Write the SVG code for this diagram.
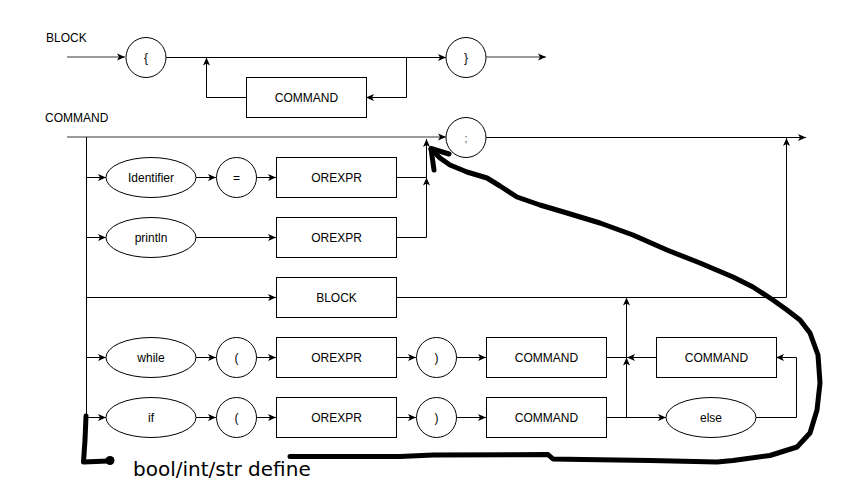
<svg xmlns="http://www.w3.org/2000/svg" width="842" height="480" viewBox="0 0 842 480">
  <style>
    .n { fill: #fff; stroke: #000; stroke-width: 1; }
    .t { font-family: "Liberation Sans", Arial, sans-serif; font-size: 12px; fill: #000; text-anchor: middle; dominant-baseline: central; }
    .lbl { font-family: "Liberation Sans", Arial, sans-serif; font-size: 12px; fill: #000; }
    .c { fill: none; stroke: #000; stroke-width: 1; }
    .g { fill: none; stroke: #7a7a7a; stroke-width: 1.6; }
    .ink { fill: none; stroke: #000; stroke-width: 5; stroke-linecap: round; stroke-linejoin: round; }
    .hand { font-family: "DejaVu Sans", sans-serif; font-size: 20px; fill: #000; }
  </style>
  <defs>
    <marker id="arr" markerUnits="userSpaceOnUse" markerWidth="10" markerHeight="10" viewBox="0 0 10 10" refX="8" refY="5" orient="auto">
      <path d="M0,1.5 L8,5 L0,8.5 L2,5 z" fill="#000"/>
    </marker>
  </defs>

  <rect width="842" height="480" fill="#fff"/>

  <!-- rule titles -->
  <text class="lbl" x="46" y="42">BLOCK</text>
  <text class="lbl" x="45" y="122">COMMAND</text>

  <!-- connectors -->
  <g id="connectors">
    <!-- BLOCK rule -->
    <path class="g" d="M67,57 H125" marker-end="url(#arr)"/>
    <path class="c" d="M166,57.5 H446" marker-end="url(#arr)"/>
    <path class="g" d="M486,57 H546" marker-end="url(#arr)"/>
    <path class="c" d="M406.5,57.5 V97.5 H366" marker-end="url(#arr)"/>
    <path class="c" d="M246,97.5 H206.5 V57.5" marker-end="url(#arr)"/>

    <!-- COMMAND rule: main line -->
    <path class="g" d="M67,137 H446" marker-end="url(#arr)"/>
    <path class="c" d="M486,137.5 H806" marker-end="url(#arr)"/>
    <path class="c" d="M86.5,137 V417.5"/>

    <!-- assignment -->
    <path class="c" d="M86.5,177.5 H106" marker-end="url(#arr)"/>
    <path class="c" d="M196,177.5 H216" marker-end="url(#arr)"/>
    <path class="c" d="M256,177.5 H276" marker-end="url(#arr)"/>
    <path class="c" d="M396,177.5 H426.5 V139" marker-end="url(#arr)"/>

    <!-- println -->
    <path class="c" d="M86.5,237.5 H106" marker-end="url(#arr)"/>
    <path class="c" d="M196,237.5 H276" marker-end="url(#arr)"/>
    <path class="c" d="M396,237.5 H426.5 V177.5" marker-end="url(#arr)"/>

    <!-- block -->
    <path class="c" d="M86.5,297.5 H276" marker-end="url(#arr)"/>
    <path class="c" d="M396,297.5 H786.5 V138" marker-end="url(#arr)"/>

    <!-- while -->
    <path class="c" d="M86.5,357.5 H106" marker-end="url(#arr)"/>
    <path class="c" d="M196,357.5 H216" marker-end="url(#arr)"/>
    <path class="c" d="M256,357.5 H276" marker-end="url(#arr)"/>
    <path class="c" d="M396,357.5 H416" marker-end="url(#arr)"/>
    <path class="c" d="M456,357.5 H486" marker-end="url(#arr)"/>
    <path class="c" d="M606,357.5 H626.5"/>
    <path class="c" d="M656,357.5 H627" marker-end="url(#arr)"/>
    <path class="c" d="M626.5,357.5 V297.5" marker-end="url(#arr)"/>

    <!-- if / else -->
    <path class="c" d="M86.5,417.5 H106" marker-end="url(#arr)"/>
    <path class="c" d="M196,417.5 H216" marker-end="url(#arr)"/>
    <path class="c" d="M256,417.5 H276" marker-end="url(#arr)"/>
    <path class="c" d="M396,417.5 H416" marker-end="url(#arr)"/>
    <path class="c" d="M456,417.5 H486" marker-end="url(#arr)"/>
    <path class="c" d="M606,417.5 H666" marker-end="url(#arr)"/>
    <path class="c" d="M626.5,417.5 V357.5" marker-end="url(#arr)"/>
    <path class="c" d="M756,417.5 H796.5 V357.5 H776" marker-end="url(#arr)"/>
  </g>

  <!-- BLOCK nodes -->
  <g id="block-open"><circle class="n" cx="146" cy="57.5" r="20"/><text class="t" x="146" y="57.5">{</text></g>
  <g id="block-body"><rect class="n" x="246.5" y="77.5" width="120" height="40"/><text class="t" x="306.5" y="97.5">COMMAND</text></g>
  <g id="block-close"><circle class="n" cx="466" cy="57.5" r="20"/><text class="t" x="466" y="57.5">}</text></g>

  <!-- COMMAND nodes -->
  <g id="semicolon"><circle class="n" cx="466" cy="137.5" r="20"/><text class="t" x="466" y="137.5" style="font-size:11px;fill:#555">;</text></g>

  <g id="identifier"><ellipse class="n" cx="151" cy="177.5" rx="45" ry="20"/><text class="t" x="151" y="177.5">Identifier</text></g>
  <g id="equals"><circle class="n" cx="236.5" cy="177.5" r="20"/><text class="t" x="236.5" y="177.5">=</text></g>
  <g id="assign-expr"><rect class="n" x="276.5" y="157.5" width="120" height="40"/><text class="t" x="336.5" y="177.5">OREXPR</text></g>

  <g id="println"><ellipse class="n" cx="151" cy="237.5" rx="45" ry="20"/><text class="t" x="151" y="237.5">println</text></g>
  <g id="println-expr"><rect class="n" x="276.5" y="217.5" width="120" height="40"/><text class="t" x="336.5" y="237.5">OREXPR</text></g>

  <g id="nested-block"><rect class="n" x="276.5" y="277.5" width="120" height="40"/><text class="t" x="336.5" y="297.5">BLOCK</text></g>

  <g id="while"><ellipse class="n" cx="151" cy="357.5" rx="45" ry="20"/><text class="t" x="151" y="357.5">while</text></g>
  <g id="while-open"><circle class="n" cx="236.5" cy="357.5" r="20"/><text class="t" x="236.5" y="357.5">(</text></g>
  <g id="while-expr"><rect class="n" x="276.5" y="337.5" width="120" height="40"/><text class="t" x="336.5" y="357.5">OREXPR</text></g>
  <g id="while-close"><circle class="n" cx="436.5" cy="357.5" r="20"/><text class="t" x="436.5" y="357.5">)</text></g>
  <g id="while-body"><rect class="n" x="486.5" y="337.5" width="120" height="40"/><text class="t" x="546.5" y="357.5">COMMAND</text></g>
  <g id="else-body"><rect class="n" x="656.5" y="337.5" width="120" height="40"/><text class="t" x="716.5" y="357.5">COMMAND</text></g>

  <g id="if"><ellipse class="n" cx="151" cy="417.5" rx="45" ry="20"/><text class="t" x="151" y="417.5">if</text></g>
  <g id="if-open"><circle class="n" cx="236.5" cy="417.5" r="20"/><text class="t" x="236.5" y="417.5">(</text></g>
  <g id="if-expr"><rect class="n" x="276.5" y="397.5" width="120" height="40"/><text class="t" x="336.5" y="417.5">OREXPR</text></g>
  <g id="if-close"><circle class="n" cx="436.5" cy="417.5" r="20"/><text class="t" x="436.5" y="417.5">)</text></g>
  <g id="if-body"><rect class="n" x="486.5" y="397.5" width="120" height="40"/><text class="t" x="546.5" y="417.5">COMMAND</text></g>
  <g id="else"><ellipse class="n" cx="711" cy="417.5" rx="45" ry="20"/><text class="t" x="711" y="417.5">else</text></g>

  <!-- hand-drawn annotation -->
  <g id="annotation">
    <path class="ink" d="M86,416 L85,440 L83.5,462 L108,461"/>
    <circle cx="110" cy="460.5" r="4.5" fill="#000"/>
    <text class="hand" x="133" y="476">bool/int/str define</text>
    <path class="ink" d="M290,456.5 L400,456.5 L433,455 L548,454.5 L553,459 L583,459.5 L650,460.5 L717,462 L733,460.5 L770,455.5 L797,447 L810,433 L817,410 L820,383 L818,355 L810,333 L800,320 L787,310 L773,300 L753,287 L733,277 L700,263 L667,250 L633,235 L600,223 L567,213 L540,205 L517,197 L500,186 L487,178 L467,172 L450,165 L440,158 L431,149"/>
    <path class="ink" d="M449,154 L431,148.5 L434,170"/>
  </g>
</svg>
